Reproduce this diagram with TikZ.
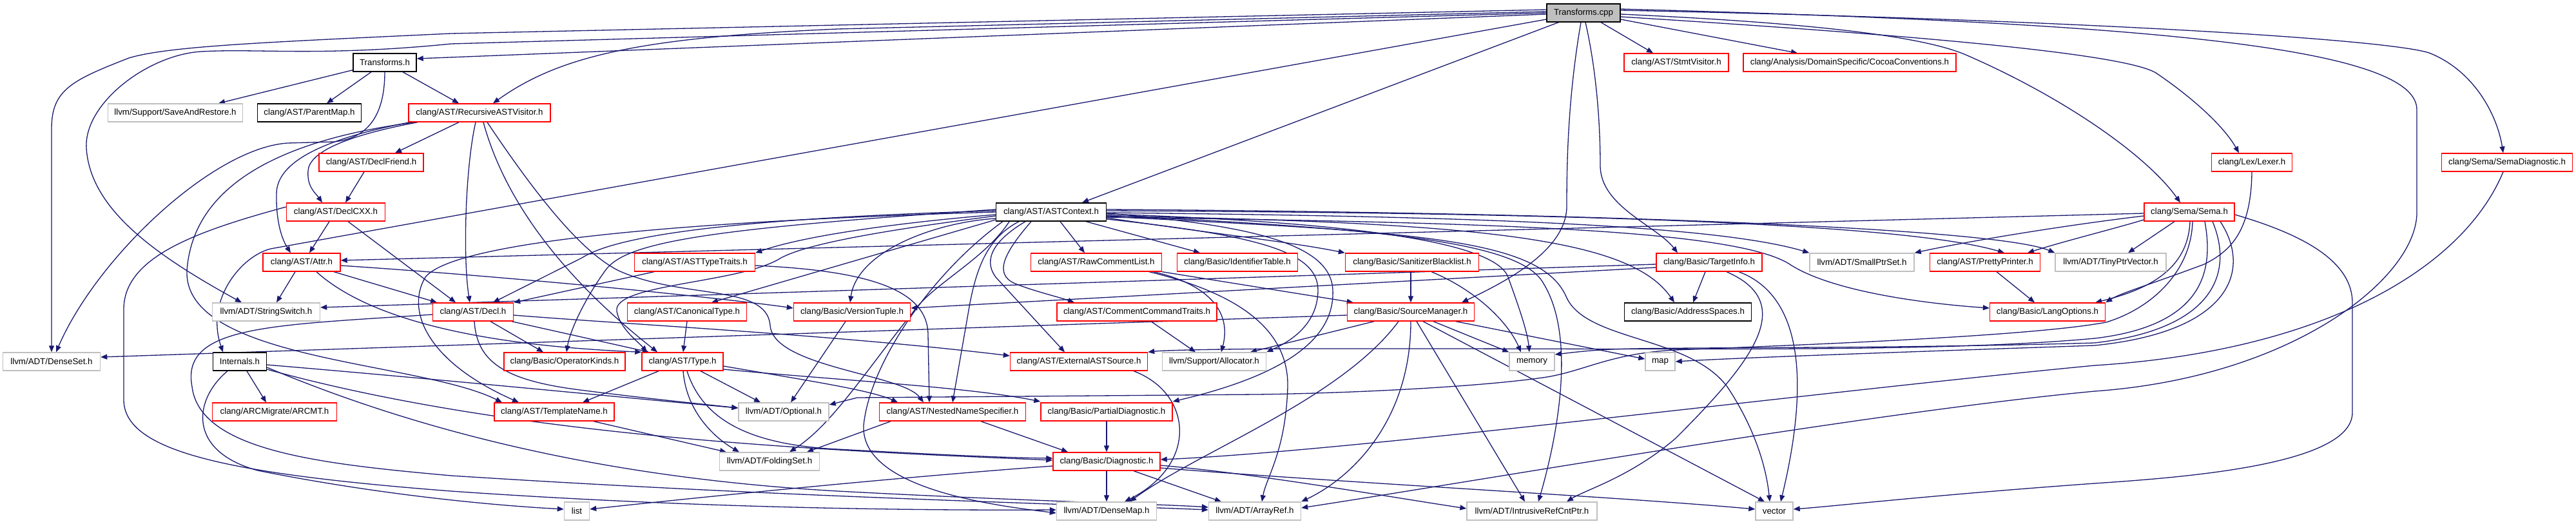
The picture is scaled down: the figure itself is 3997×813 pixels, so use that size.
\documentclass[tikz,border=0pt]{standalone}
\usepackage{fontspec}
\setmainfont{Liberation Sans}
\usetikzlibrary{arrows.meta,backgrounds}
\definecolor{edgec}{HTML}{191970}
\definecolor{redb}{HTML}{FF0000}
\definecolor{grayb}{HTML}{BFBFBF}
\begin{document}
\begin{tikzpicture}[x=1pt,y=-1pt,
 nd/.style={rectangle,inner sep=0pt,minimum height=28pt,line width=1.4pt,fill=white,font=\fontsize{13.3}{16}\selectfont},
 rn/.style={nd,draw=redb},
 gn/.style={nd,draw=grayb},
 bn/.style={nd,draw=black},
 rootn/.style={nd,draw=black,fill=grayb},
 e/.style={draw=edgec,line width=1.3pt,-{Triangle[length=10pt,width=8pt]}}]
\useasboundingbox (0,0) rectangle (3997,813);
% nodes
\node[rootn,minimum width=114] (TCPP) at (2457,20) {Transforms.cpp};
\node[bn,minimum width=98] (TH) at (597,97) {Transforms.h};
\node[rn,minimum width=162] (StmtV) at (2601,97) {clang/AST/StmtVisitor.h};
\node[rn,minimum width=330] (Cocoa) at (2870,97) {clang/Analysis/DomainSpecific/CocoaConventions.h};
\node[gn,minimum width=209] (SAR) at (272,175) {llvm/Support/SaveAndRestore.h};
\node[bn,minimum width=161] (PM) at (480,175) {clang/AST/ParentMap.h};
\node[rn,minimum width=220] (RAV) at (744,175) {clang/AST/RecursiveASTVisitor.h};
\node[rn,minimum width=162] (DF) at (576,252) {clang/AST/DeclFriend.h};
\node[rn,minimum width=125] (Lexer) at (3494,252) {clang/Lex/Lexer.h};
\node[rn,minimum width=203] (SemaDiag) at (3890,252) {clang/Sema/SemaDiagnostic.h};
\node[rn,minimum width=153] (DCXX) at (521,329) {clang/AST/DeclCXX.h};
\node[bn,minimum width=171] (ASTC) at (1631,329) {clang/AST/ASTContext.h};
\node[rn,minimum width=140] (Sema) at (3397,329) {clang/Sema/Sema.h};
\node[rn,minimum width=120] (Attr) at (468,407) {clang/AST/Attr.h};
\node[rn,minimum width=187] (ATT) at (1078,407) {clang/AST/ASTTypeTraits.h};
\node[rn,minimum width=203] (RCL) at (1701,407) {clang/AST/RawCommentList.h};
\node[rn,minimum width=187] (IT) at (1920,407) {clang/Basic/IdentifierTable.h};
\node[rn,minimum width=207] (SB) at (2191,407) {clang/Basic/SanitizerBlacklist.h};
\node[rn,minimum width=164] (TI) at (2652,407) {clang/Basic/TargetInfo.h};
\node[gn,minimum width=162] (SPS) at (2889,407) {llvm/ADT/SmallPtrSet.h};
\node[rn,minimum width=171] (PP) at (3080,407) {clang/AST/PrettyPrinter.h};
\node[gn,minimum width=172] (TPV) at (3275,407) {llvm/ADT/TinyPtrVector.h};
\node[gn,minimum width=167] (SS) at (413,484) {llvm/ADT/StringSwitch.h};
\node[rn,minimum width=125] (Decl) at (734,484) {clang/AST/Decl.h};
\node[rn,minimum width=185] (CT) at (1066,484) {clang/AST/CanonicalType.h};
\node[rn,minimum width=181] (VT) at (1322,484) {clang/Basic/VersionTuple.h};
\node[rn,minimum width=248] (CCT) at (1764,484) {clang/AST/CommentCommandTraits.h};
\node[rn,minimum width=197] (SM) at (2189,484) {clang/Basic/SourceManager.h};
\node[bn,minimum width=197] (AS) at (2619,484) {clang/Basic/AddressSpaces.h};
\node[rn,minimum width=179] (LO) at (3177,484) {clang/Basic/LangOptions.h};
\node[gn,minimum width=151] (DS) at (80,561) {llvm/ADT/DenseSet.h};
\node[bn,minimum width=83] (Int) at (372,561) {Internals.h};
\node[rn,minimum width=188] (OK) at (876,561) {clang/Basic/OperatorKinds.h};
\node[rn,minimum width=126] (Type) at (1059,561) {clang/AST/Type.h};
\node[rn,minimum width=213] (EAS) at (1674,561) {clang/AST/ExternalASTSource.h};
\node[gn,minimum width=161] (Alloc) at (1884,561) {llvm/Support/Allocator.h};
\node[gn,minimum width=70] (mem) at (2377,561) {memory};
\node[gn,minimum width=46] (map) at (2576,561) {map};
\node[rn,minimum width=193] (ARCMT) at (426,639) {clang/ARCMigrate/ARCMT.h};
\node[rn,minimum width=186] (TN) at (860,639) {clang/AST/TemplateName.h};
\node[gn,minimum width=140] (Opt) at (1216,639) {llvm/ADT/Optional.h};
\node[rn,minimum width=227] (NNS) at (1478,639) {clang/AST/NestedNameSpecifier.h};
\node[rn,minimum width=204] (PD) at (1717,639) {clang/Basic/PartialDiagnostic.h};
\node[gn,minimum width=155] (FS) at (1194,716) {llvm/ADT/FoldingSet.h};
\node[rn,minimum width=166] (Diag) at (1717,716) {clang/Basic/Diagnostic.h};
\node[gn,minimum width=39] (list) at (895,793) {list};
\node[gn,minimum width=155] (DM) at (1717,793) {llvm/ADT/DenseMap.h};
\node[gn,minimum width=143] (AR) at (1947,793) {llvm/ADT/ArrayRef.h};
\node[gn,minimum width=202] (IRCP) at (2377,793) {llvm/ADT/IntrusiveRefCntPtr.h};
\node[gn,minimum width=58] (vector) at (2753,793) {vector};
\begin{scope}[on background layer]
\fill[white] (0,0) rectangle (3997,813);
% Transforms.cpp
\draw[e] ([yshift=-2]TCPP.west) -- ([yshift=6]TH.east);
\draw[e] ([yshift=-10]TCPP.west) -- (420,386) .. controls (375,397) and (318,465) .. ([xshift=-26]Int.north);
\draw[e] ([xshift=19]TCPP.south west) -- ([xshift=48]ASTC.north);
\draw[e] ([yshift=2]TCPP.west) -- (1300,45) .. controls (1000,58) and (870,85) .. ([xshift=21]RAV.north);
\draw[e] ([yshift=5]TCPP.west) -- (700,52) .. controls (400,66) and (260,72) .. (200,90) .. controls (110,125) and (80,140) .. (80,200) -- (DS.north);
\draw[e] (TCPP.west) -- (700,68) .. controls (500,88) and (400,75) .. (312,80) .. controls (230,85) and (130,160) .. (134,230) .. controls (140,320) and (230,390) .. ([xshift=-38]SS.north);
\draw[e] ([xshift=27]TCPP.south) -- ([xshift=-36]StmtV.north);
\draw[e] ([yshift=-10]TCPP.east) -- ([xshift=-81]Cocoa.north);
\draw[e] ([xshift=-4]TCPP.south) .. controls (2433,150) and (2431,250) .. (2431,320) .. controls (2431,390) and (2330,440) .. ([xshift=79]SM.north);
\draw[e] ([xshift=3]TCPP.south) .. controls (2475,100) and (2483,180) .. (2483,257) .. controls (2483,320) and (2570,350) .. ([xshift=-49]TI.north);
\draw[e] ([yshift=-6]TCPP.east) .. controls (2900,50) and (3290,80) .. (3345,113) .. controls (3400,150) and (3450,195) .. ([xshift=-20]Lexer.north);
\draw[e] ([yshift=-2]TCPP.east) .. controls (2800,35) and (2980,55) .. (3050,85) .. controls (3200,150) and (3330,240) .. ([xshift=-14]Sema.north);
\draw[e] ([yshift=4]TCPP.east) .. controls (3200,30) and (3700,60) .. (3769,82) .. controls (3840,110) and (3875,180) .. ([xshift=-6]SemaDiag.north);
\draw[e] ([yshift=6]TCPP.east) .. controls (3300,35) and (3750,70) .. (3750,170) -- (3750,330) .. controls (3750,430) and (3560,585) .. (3250,607) .. controls (2900,640) and (2300,745) .. ([yshift=5]AR.east);
% Transforms.h
\draw[e] ([yshift=3]TH.south west) -- ([xshift=67]SAR.north);
\draw[e] ([xshift=-21]TH.south) -- ([xshift=27]PM.north);
\draw[e] ([xshift=28]TH.south) -- ([xshift=-32]RAV.north);
\draw[e] (TH.south) .. controls (597,180) and (570,215) .. (518,220) -- (446,222) .. controls (330,230) and (150,400) .. ([xshift=7]DS.north);
% Internals.h
\draw[e] ([xshift=11]Int.south) -- ([xshift=-13]ARCMT.north);
\draw[e] ([yshift=-5]Int.east) .. controls (700,590) and (1000,620) .. ([yshift=6]Opt.west);
\draw[e] ([yshift=-12]Int.east) .. controls (800,680) and (1300,700) .. ([yshift=2]Diag.west);
\draw[e] ([yshift=-9]Int.east) .. controls (700,690) and (1000,745) .. (1300,762) .. controls (1600,778) and (1800,782) .. ([yshift=6]AR.west);
\draw[e] ([xshift=-19]Int.south) .. controls (300,620) and (290,700) .. (400,730) .. controls (600,770) and (780,785) .. ([yshift=3]list.west);
% RecursiveASTVisitor.h
\draw[e] ([xshift=-32]RAV.south) -- ([xshift=37]DF.north);
\draw[e] ([xshift=-6]RAV.south) .. controls (722,260) and (718,400) .. ([xshift=-5]Decl.north);
\draw[e] ([xshift=6]RAV.south) .. controls (780,300) and (860,420) .. ([xshift=-39]Type.north);
\draw[e] ([xshift=12]RAV.south) .. controls (830,300) and (900,390) .. (960,420) .. controls (1060,465) and (1190,440) .. (1195,505) .. controls (1200,570) and (1400,580) .. ([xshift=-45]NNS.north);
\draw[e] ([xshift=-108]RAV.south) .. controls (520,212) and (430,245) .. (429,300) .. controls (428,350) and (440,375) .. ([xshift=-17]Attr.north);
\draw[e] ([xshift=-96]RAV.south) .. controls (540,210) and (480,235) .. (478,265) .. controls (476,290) and (490,300) .. ([xshift=-21]DCXX.north);
\draw[e] ([xshift=-100]RAV.south) .. controls (450,215) and (300,280) .. (290,420) .. controls (285,560) and (650,560) .. ([xshift=-81]TN.north);
% DeclFriend, DeclCXX
\draw[e] ([xshift=-11]DF.south) -- ([xshift=15]DCXX.north);
\draw[e] ([xshift=-10]DCXX.south) -- ([xshift=12]Attr.north);
\draw[e] ([xshift=19]DCXX.south) -- ([xshift=-27]Decl.north);
\draw[e] ([yshift=8]DCXX.west) .. controls (300,360) and (192,400) .. (192,480) -- (192,620) .. controls (192,700) and (350,735) .. (700,762) .. controls (1100,790) and (1450,792) .. ([yshift=2]DM.west);
% Attr.h
\draw[e] ([xshift=-10]Attr.south) -- ([xshift=16]SS.north);
\draw[e] ([xshift=50]Attr.south) -- ([xshift=-56]Decl.north);
\draw[e] ([xshift=23]Attr.south) .. controls (600,520) and (850,540) .. (Type.north west);
\draw[e] ([yshift=-5]Attr.east) .. controls (800,430) and (1100,460) .. ([yshift=6]VT.west);
% Decl.h
\draw[e] ([xshift=27]Decl.south) -- ([xshift=-33]OK.north);
\draw[e] ([xshift=60]Decl.south) -- ([xshift=-52]Type.north);
\draw[e] ([yshift=-5]Decl.east) .. controls (1000,505) and (1300,520) .. ([yshift=9]EAS.west);
\draw[e] ([xshift=2]Decl.south) .. controls (740,560) and (780,590) .. (900,605) .. controls (1000,618) and (1100,628) .. ([yshift=6]Opt.west);
\draw[e] ([yshift=-4]Decl.west) .. controls (420,505) and (280,505) .. (298,600) .. controls (310,700) and (500,720) .. (700,738) .. controls (1200,770) and (1600,780) .. ([yshift=2]AR.west);
% Type.h
\draw[e] ([xshift=-37]Type.south) -- ([xshift=44]TN.north);
\draw[e] ([xshift=28]Type.south) -- ([xshift=-36]Opt.north);
\draw[e] ([xshift=1]Type.south) .. controls (1065,640) and (1110,680) .. ([xshift=-47]FS.north);
\draw[e] ([xshift=7]Type.south) .. controls (1090,650) and (1160,690) .. (1300,697) .. controls (1450,705) and (1550,710) .. ([yshift=5]Diag.west);
\draw[e] ([yshift=-7]Type.east) .. controls (1250,590) and (1350,605) .. ([xshift=-85]NNS.north);
\draw[e] ([yshift=-12]Type.east) .. controls (1300,590) and (1500,600) .. ([yshift=16]PD.west);
% misc
\draw[e] ([xshift=44]NNS.south) -- ([xshift=-60]Diag.north);
\draw[e] ([xshift=-96]NNS.south) -- ([xshift=58]FS.north);
\draw[e] ([xshift=61]TN.south) -- ([xshift=-67]FS.north);
\draw[e] (PD.south) -- (Diag.north);
\draw[e] (CT.south) -- ([xshift=1]Type.north);
\draw[e] ([xshift=-10]VT.south) -- ([xshift=11]Opt.north);
\draw[e] ([xshift=85]EAS.south) .. controls (1850,610) and (1860,720) .. ([xshift=28]DM.north);
\draw[e] ([xshift=22]CCT.south) -- ([xshift=-29]Alloc.north);
% Diagnostic.h
\draw[e] (Diag.south) -- (DM.north);
\draw[e] ([xshift=42]Diag.south) -- ([xshift=-52]AR.north);
\draw[e] ([yshift=-6]Diag.east) .. controls (1950,735) and (2150,770) .. ([yshift=4]IRCP.west);
\draw[e] ([yshift=-10]Diag.east) .. controls (2100,750) and (2500,770) .. ([yshift=3]vector.west);
\draw[e] ([yshift=-7]Diag.west) .. controls (1400,740) and (1100,770) .. ([yshift=3]list.east);
% RawCommentList
\draw[e] (RCL.south east) -- ([xshift=10]SM.north west);
\draw[e] ([xshift=89]RCL.south) .. controls (1870,440) and (1912,480) .. ([xshift=11]Alloc.north);
\draw[e] ([xshift=82]RCL.south) .. controls (1900,450) and (2000,500) .. (1998,600) .. controls (1995,700) and (1965,740) .. ([xshift=11]AR.north);
% SanitizerBlacklist, SourceManager
\draw[e] ([xshift=-2]SB.south) -- (SM.north);
\draw[e] ([xshift=30]SB.south) .. controls (2290,450) and (2340,500) .. ([xshift=-17]mem.north);
\draw[e] ([xshift=-57]SM.south) -- ([xshift=56]Alloc.north);
\draw[e] ([xshift=-19]SM.south) .. controls (2080,620) and (1860,700) .. ([xshift=36]DM.north);
\draw[e] (SM.south) .. controls (2189,650) and (2100,740) .. (AR.north east);
\draw[e] ([xshift=9]SM.south) -- ([xshift=-11]IRCP.north);
\draw[e] ([xshift=19]SM.south) -- ([xshift=-15]vector.north);
\draw[e] ([xshift=35]SM.south) -- (mem.north west);
\draw[e] ([xshift=70]SM.south) -- ([yshift=4]map.west);
\draw[e] ([yshift=-5]SM.west) -- ([yshift=7]DS.east);
% TargetInfo
\draw[e] ([xshift=-6]TI.south) -- ([xshift=8]AS.north);
\draw[e] ([xshift=27]TI.south) .. controls (2790,470) and (2720,560) .. (2600,680) .. controls (2530,740) and (2460,760) .. ([xshift=54]IRCP.north);
\draw[e] ([xshift=46]TI.south) .. controls (2800,460) and (2806,600) .. ([xshift=10]vector.north);
\draw[e] ([yshift=-3]TI.west) -- ([yshift=7]SS.east);
\draw[e] ([yshift=-8]TI.west) -- ([yshift=6]VT.east);
% Lexer, SemaDiagnostic, PrettyPrinter
\draw[e] (Lexer.south) .. controls (3493,360) and (3460,390) .. (3420,410) .. controls (3340,440) and (3290,455) .. (LO.north east);
\draw[e] ([xshift=-6]SemaDiag.south) .. controls (3820,420) and (3600,545) .. (3250,567) .. controls (2800,610) and (2100,700) .. ([yshift=3]Diag.east);
\draw[e] ([xshift=18]PP.south) -- ([xshift=-20]LO.north);
% Sema.h
\draw[e] ([yshift=-2]Sema.west) -- ([yshift=3]Attr.east);
\draw[e] ([xshift=-23]Sema.south) -- ([xshift=27]TPV.north);
\draw[e] ([yshift=-6]Sema.west) .. controls (3200,350) and (3050,375) .. (SPS.north east);
\draw[e] ([yshift=-12]Sema.west) .. controls (3280,355) and (3200,375) .. ([xshift=66]PP.north);
\draw[e] ([xshift=1]Sema.south) .. controls (3395,420) and (3330,450) .. ([xshift=-16]LO.north east);
\draw[e] ([yshift=-4]Sema.east) .. controls (3560,360) and (3650,400) .. (3650,470) -- (3650,640) .. controls (3650,720) and (3400,740) .. (3250,750) .. controls (3000,768) and (2850,785) .. ([yshift=3]vector.east);
\draw[e] ([xshift=5]Sema.south) .. controls (3400,420) and (3340,478) .. (3268,500) .. controls (3150,522) and (2800,535) .. (2600,543) .. controls (2500,548) and (2460,575) .. (2400,585) .. controls (2300,600) and (2100,610) .. (1950,612) -- (1330,617) -- ([yshift=11]Opt.east);
\draw[e] ([xshift=24]Sema.south) .. controls (3435,420) and (3420,505) .. (3250,525) .. controls (3000,548) and (2600,540) .. (2000,541) .. controls (1850,542) and (1800,544) .. (EAS.north east);
\draw[e] ([xshift=36]Sema.south) .. controls (3465,420) and (3440,510) .. (3250,532) .. controls (2900,542) and (2600,538) .. (2500,542) .. controls (2460,544) and (2430,548) .. ([yshift=11]mem.east);
\draw[e] ([xshift=48]Sema.south) .. controls (3495,420) and (3460,515) .. (3250,536) .. controls (2900,548) and (2700,555) .. (map.east);
% ASTTypeTraits
\draw[e] ([xshift=-63]ATT.south) -- (Decl.north east);
\draw[e] ([yshift=-5]ATT.east) .. controls (1350,420) and (1440,450) .. (1440,520) -- ([xshift=-36]NNS.north);
% ASTContext.h
\draw[e] ([xshift=14]ASTC.south) -- ([xshift=-18]RCL.north);
\draw[e] ([xshift=54]ASTC.south) -- ([xshift=-58]IT.north);
\draw[e] ([yshift=-9]ASTC.east) .. controls (1900,365) and (2000,375) .. (SB.north west);
\draw[e] ([xshift=-31]ASTC.south) .. controls (1560,390) and (1540,425) .. (1575,440) .. controls (1605,452) and (1640,460) .. ([xshift=-97]CCT.north);
\draw[e] ([xshift=-40]ASTC.south) .. controls (1530,380) and (1530,410) .. (1545,430) -- ([xshift=-22]EAS.north);
\draw[e] ([xshift=-50]ASTC.south) .. controls (1530,370) and (1515,420) .. (1505,470) -- (NNS.north);
\draw[e] ([xshift=-65]ASTC.south) .. controls (1530,400) and (1450,440) .. (1420,480) .. controls (1340,580) and (1290,660) .. ([xshift=31]FS.north);
\draw[e] ([xshift=-75]ASTC.south) .. controls (1450,420) and (1350,560) .. (1340,660) .. controls (1335,760) and (1550,785) .. ([yshift=-3]DM.west);
\draw[e] ([yshift=-10]ASTC.west) .. controls (1450,345) and (1330,390) .. ([xshift=-3]VT.north);
\draw[e] ([yshift=2]ASTC.west) .. controls (1100,340) and (950,370) .. (903,400) -- ([xshift=31]Decl.north);
\draw[e] (ASTC.west) .. controls (1000,345) and (700,380) .. (660,430) .. controls (630,480) and (660,560) .. ([xshift=-55]TN.north);
\draw[e] ([yshift=-6]ASTC.west) .. controls (1350,360) and (1250,380) .. (1212,400) .. controls (1150,440) and (950,440) .. (957,483) .. controls (962,510) and (990,530) .. ([xshift=-55]Type.north);
\draw[e] ([yshift=-4]ASTC.west) .. controls (1400,345) and (1250,365) .. (ATT.north east);
\draw[e] ([yshift=-12]ASTC.west) -- ([xshift=38]CT.north);
\draw[e] ([yshift=4]ASTC.west) .. controls (1100,355) and (970,375) .. (939,420) .. controls (910,460) and (885,510) .. ([xshift=3]OK.north);
\draw[e] ([yshift=-2]ASTC.east) .. controls (1950,350) and (2065,380) .. (2068,450) .. controls (2072,540) and (1960,590) .. ([yshift=16]PD.east);
\draw[e] ([yshift=-11]ASTC.east) .. controls (1950,365) and (2045,390) .. (2045,450) .. controls (2045,510) and (1990,535) .. (Alloc.north east);
\draw[e] ([yshift=-3]ASTC.east) .. controls (2100,345) and (2320,375) .. (2340,430) .. controls (2358,480) and (2370,515) .. ([xshift=-4]mem.north);
\draw[e] ([yshift=-5]ASTC.east) .. controls (2150,355) and (2360,375) .. (2395,440) .. controls (2450,530) and (2410,700) .. ([xshift=10]IRCP.north);
\draw[e] ([yshift=-7]ASTC.east) .. controls (2200,360) and (2390,370) .. (2430,460) .. controls (2460,530) and (2620,520) .. (2680,600) .. controls (2720,660) and (2740,720) .. ([xshift=-7]vector.north);
\draw[e] ([yshift=-6]ASTC.east) .. controls (2300,345) and (2530,370) .. ([xshift=-21]AS.north);
\draw[e] ([yshift=-1]ASTC.east) .. controls (2200,335) and (2650,345) .. (SPS.north west);
\draw[e] ([yshift=2]ASTC.east) .. controls (2400,330) and (2950,345) .. ([xshift=30]PP.north);
\draw[e] ([yshift=4]ASTC.east) .. controls (2500,330) and (3100,355) .. (TPV.north west);
\draw[e] ([yshift=-8]ASTC.east) .. controls (2300,345) and (2700,355) .. (2780,412) .. controls (2850,455) and (3000,472) .. ([yshift=6]LO.west);
\end{scope}
\end{tikzpicture}
\end{document}
